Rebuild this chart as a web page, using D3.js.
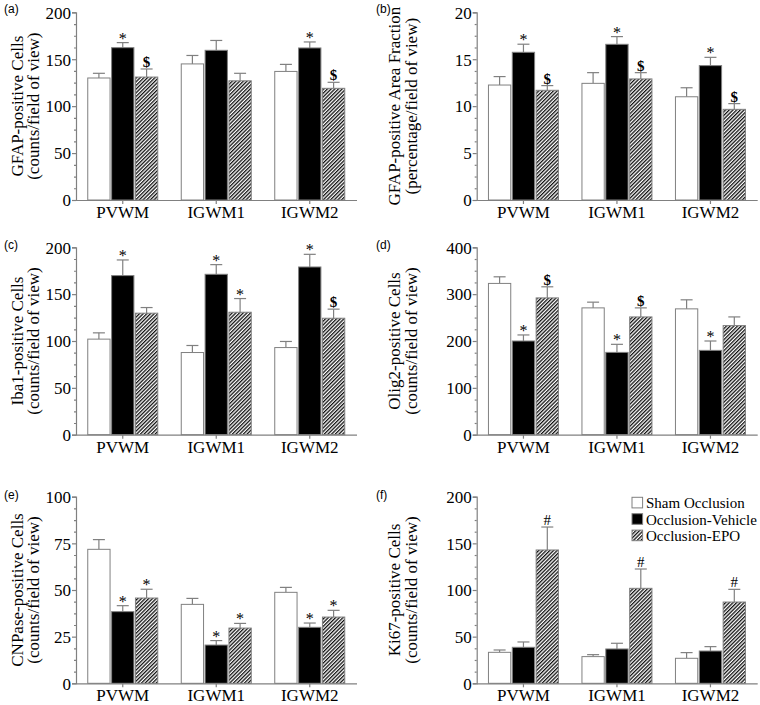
<!DOCTYPE html>
<html><head><meta charset="utf-8">
<script src="https://cdn.jsdelivr.net/npm/d3@7/dist/d3.min.js"></script>
<style>
body{margin:0;background:#fff;}
svg{display:block;}
</style></head>
<body>
<svg id="chart" width="760" height="705"></svg>
<script>
// ---------- data ----------
const categories = ["PVWM", "IGWM1", "IGWM2"];
const seriesNames = ["Sham Occlusion", "Occlusion-Vehicle", "Occlusion-EPO"];

// (a) GFAP-positive cells
const aSham = [130, 145, 137],      aShamErr = [5, 9, 7.5];
const aVeh  = [162.3, 159.5, 162],  aVehErr  = [5.4, 10.5, 6.4];
const aEpo  = [131, 127, 119],      aEpoErr  = [8.6, 8, 6.4];
const aMarks = [["", "", ""], ["*", "", "*"], ["$", "", "$"]];
const aTicks = [0, 50, 100, 150, 200];

// (b) GFAP-positive area fraction
const bSham = [12.25, 12.43, 11.0], bShamErr = [0.9, 1.14, 0.96];
const bVeh  = [15.74, 16.59, 14.32], bVehErr = [0.86, 0.82, 0.88];
const bEpo  = [11.69, 12.9, 9.66],  bEpoErr  = [0.5, 0.67, 0.61];
const bMarks = [["", "", ""], ["*", "*", "*"], ["$", "$", "$"]];
const bTicks = [0, 5, 10, 15, 20];

// (c) Iba1-positive cells
const cSham = [102, 87.7, 93],      cShamErr = [6.7, 7.5, 6.5];
const cVeh  = [169.8, 171.2, 179],  cVehErr  = [16.7, 10.3, 13.5];
const cEpo  = [129.7, 130.7, 124.3], cEpoErr = [6, 14.6, 9.7];
const cMarks = [["", "", ""], ["*", "*", "*"], ["", "*", "$"]];
const cTicks = [0, 50, 100, 150, 200];

// (d) Olig2-positive cells
const dSham = [322.9, 270.7, 268.6], dShamErr = [14.1, 12.2, 19.3];
const dVeh  = [200, 175.7, 180],     dVehErr  = [12.9, 17.2, 20];
const dEpo  = [292, 251.4, 232.9],   dEpoErr  = [23.7, 19.3, 18.5];
const dMarks = [["", "", ""], ["*", "*", "*"], ["$", "$", ""]];
const dTicks = [0, 100, 200, 300, 400];

// (e) CNPase-positive cells
const eSham = [71.8, 42.3, 48.75], eShamErr = [5.2, 3.2, 2.65];
const eVeh  = [38.4, 20.5, 30],    eVehErr  = [3.2, 2.4, 2.3];
const eEpo  = [45.7, 29.6, 35.5],  eEpoErr  = [4.7, 2.5, 3.6];
const eMarks = [["", "", ""], ["*", "*", "*"], ["*", "*", "*"]];
const eTicks = [0, 25, 50, 75, 100];

// (f) Ki67-positive cells
const fSham = [33.2, 28.6, 26.8],  fShamErr = [2.5, 2.1, 6.1];
const fVeh  = [38.6, 36.8, 34.6],  fVehErr  = [5.7, 6.1, 4.7];
const fEpo  = [142.9, 101.8, 87.1], fEpoErr = [24.6, 20.7, 13.6];
const fMarks = [["", "", ""], ["", "", ""], ["#", "#", "#"]];
const fTicks = [0, 50, 100, 150, 200];

const panels = [
  {id: "(a)", means: [aSham, aVeh, aEpo], errs: [aShamErr, aVehErr, aEpoErr], marks: aMarks, ticks: aTicks,
   label: ["GFAP-positive Cells", "(counts/field of view)"], col: 0, row: 0},
  {id: "(b)", means: [bSham, bVeh, bEpo], errs: [bShamErr, bVehErr, bEpoErr], marks: bMarks, ticks: bTicks,
   label: ["GFAP-positive Area Fraction", "(percentage/field of view)"], col: 1, row: 0},
  {id: "(c)", means: [cSham, cVeh, cEpo], errs: [cShamErr, cVehErr, cEpoErr], marks: cMarks, ticks: cTicks,
   label: ["Iba1-positive Cells", "(counts/field of view)"], col: 0, row: 1},
  {id: "(d)", means: [dSham, dVeh, dEpo], errs: [dShamErr, dVehErr, dEpoErr], marks: dMarks, ticks: dTicks,
   label: ["Olig2-positive Cells", "(counts/field of view)"], col: 1, row: 1},
  {id: "(e)", means: [eSham, eVeh, eEpo], errs: [eShamErr, eVehErr, eEpoErr], marks: eMarks, ticks: eTicks,
   label: ["CNPase-positive Cells", "(counts/field of view)"], col: 0, row: 2},
  {id: "(f)", means: [fSham, fVeh, fEpo], errs: [fShamErr, fVehErr, fEpoErr], marks: fMarks, ticks: fTicks,
   label: ["Ki67-positive Cells", "(counts/field of view)"], col: 1, row: 2, legend: true}
];

// ---------- layout ----------
const SERIF = "'Liberation Serif','Times New Roman',serif";
const SANS = "'Liberation Sans',Arial,sans-serif";
const AXIS = "#808080";
const colX = [76, 476.7];
const rowY = [[12.3, 200], [247.3, 434.7], [496.7, 683.3]];
const plotW = 280.5;
const labelOff = [[-59, -43], [-82, -65]];
const panelLabelX = [4, 376];
const panelLabelY = [13, 249, 499];

const svg = d3.select("#chart");
const defs = svg.append("defs");
const pat = defs.append("pattern").attr("id", "hatch")
  .attr("patternUnits", "userSpaceOnUse").attr("width", 2.6).attr("height", 2.6)
  .attr("patternTransform", "rotate(45)");
pat.append("rect").attr("width", 2.6).attr("height", 2.6).attr("fill", "#fff");
pat.append("line").attr("x1", 0.65).attr("y1", 0).attr("x2", 0.65).attr("y2", 2.6)
  .attr("stroke", "#111").attr("stroke-width", 1.3);

const fills = ["#fff", "#000", "url(#hatch)"];

panels.forEach(p => {
  const x0 = colX[p.col];
  const [yTop, yBot] = rowY[p.row];
  const yMax = p.ticks[p.ticks.length - 1];
  const y = d3.scaleLinear().domain([0, yMax]).range([yBot, yTop]);
  const x = d3.scaleBand().domain(categories).range([x0, x0 + plotW]).padding(0);
  const g = svg.append("g");

  // bars
  categories.forEach((cat, ci) => {
    const cx = x(cat) + x.bandwidth() / 2;
    const xs = d3.scaleBand().domain(seriesNames).range([cx - 35, cx + 35]).paddingInner(0.065);
    seriesNames.forEach((s, si) => {
      const v = p.means[si][ci], e = p.errs[si][ci];
      const bx = xs(s), bw = xs.bandwidth(), mx = bx + bw / 2;
      // error bar
      g.append("line").attr("x1", mx).attr("x2", mx).attr("y1", y(v)).attr("y2", y(v + e))
        .attr("stroke", AXIS).attr("stroke-width", 1.2);
      g.append("line").attr("x1", mx - 6).attr("x2", mx + 6).attr("y1", y(v + e)).attr("y2", y(v + e))
        .attr("stroke", AXIS).attr("stroke-width", 1.2);
      g.append("rect").attr("x", bx).attr("y", y(v)).attr("width", bw).attr("height", y(0) - y(v))
        .attr("fill", fills[si]).attr("stroke", AXIS).attr("stroke-width", 1);
      const m = p.marks[si][ci];
      if (m) {
        const base = y(v + e) + (m === "*" ? 1 : -2);
        g.append("text").attr("x", mx).attr("y", base).attr("text-anchor", "middle")
          .attr("font-family", SERIF).attr("font-size", m === "*" ? 16 : 15)
          .attr("font-weight", m === "$" ? "bold" : "normal").text(m);
      }
    });
  });

  // y axis
  const minor = [];
  for (let i = 0; i < p.ticks.length - 1; i++) {
    const st = (p.ticks[i + 1] - p.ticks[i]) / 4;
    for (let k = 1; k < 4; k++) minor.push(p.ticks[i] + k * st);
  }
  const ya = g.append("g").attr("transform", `translate(${x0},0)`)
    .call(d3.axisLeft(y).tickValues(p.ticks).tickSize(4).tickPadding(1));
  g.append("g").attr("transform", `translate(${x0},0)`)
    .call(d3.axisLeft(y).tickValues(minor).tickSize(2).tickFormat(""))
    .call(s => s.select(".domain").remove());
  // x axis
  const xa = g.append("g").attr("transform", `translate(0,${yBot})`)
    .call(d3.axisBottom(x).tickSize(4).tickPadding(2).tickSizeOuter(0));
  g.selectAll(".domain, .tick line").attr("stroke", AXIS).attr("stroke-width", 1.2);
  g.selectAll(".tick text").attr("font-family", SERIF).attr("font-size", 17).attr("fill", "#000");
  ya.selectAll(".tick text").attr("dy", "0.34em");

  // y label
  const lx = labelOff[p.col];
  const cy = (yTop + yBot) / 2;
  p.label.forEach((t, li) => {
    g.append("text").attr("transform", `translate(${x0 + lx[li]},${cy}) rotate(-90)`)
      .attr("text-anchor", "middle").attr("dominant-baseline", "central")
      .attr("font-family", SERIF).attr("font-size", 17).text(t);
  });

  // panel label
  g.append("text").attr("x", panelLabelX[p.col]).attr("y", panelLabelY[p.row])
    .attr("font-family", SANS).attr("font-size", 12).text(p.id);

  // legend
  if (p.legend) {
    const lg = g.append("g");
    seriesNames.forEach((s, si) => {
      const ry = 497.3 + si * 16.4;
      lg.append("rect").attr("x", 632).attr("y", ry).attr("width", 10.6).attr("height", 10.6)
        .attr("fill", fills[si]).attr("stroke", AXIS).attr("stroke-width", 1);
      lg.append("text").attr("x", 646).attr("y", ry + 11).attr("font-family", SERIF)
        .attr("font-size", 15).text(s);
    });
  }
});
</script>
</body></html>
